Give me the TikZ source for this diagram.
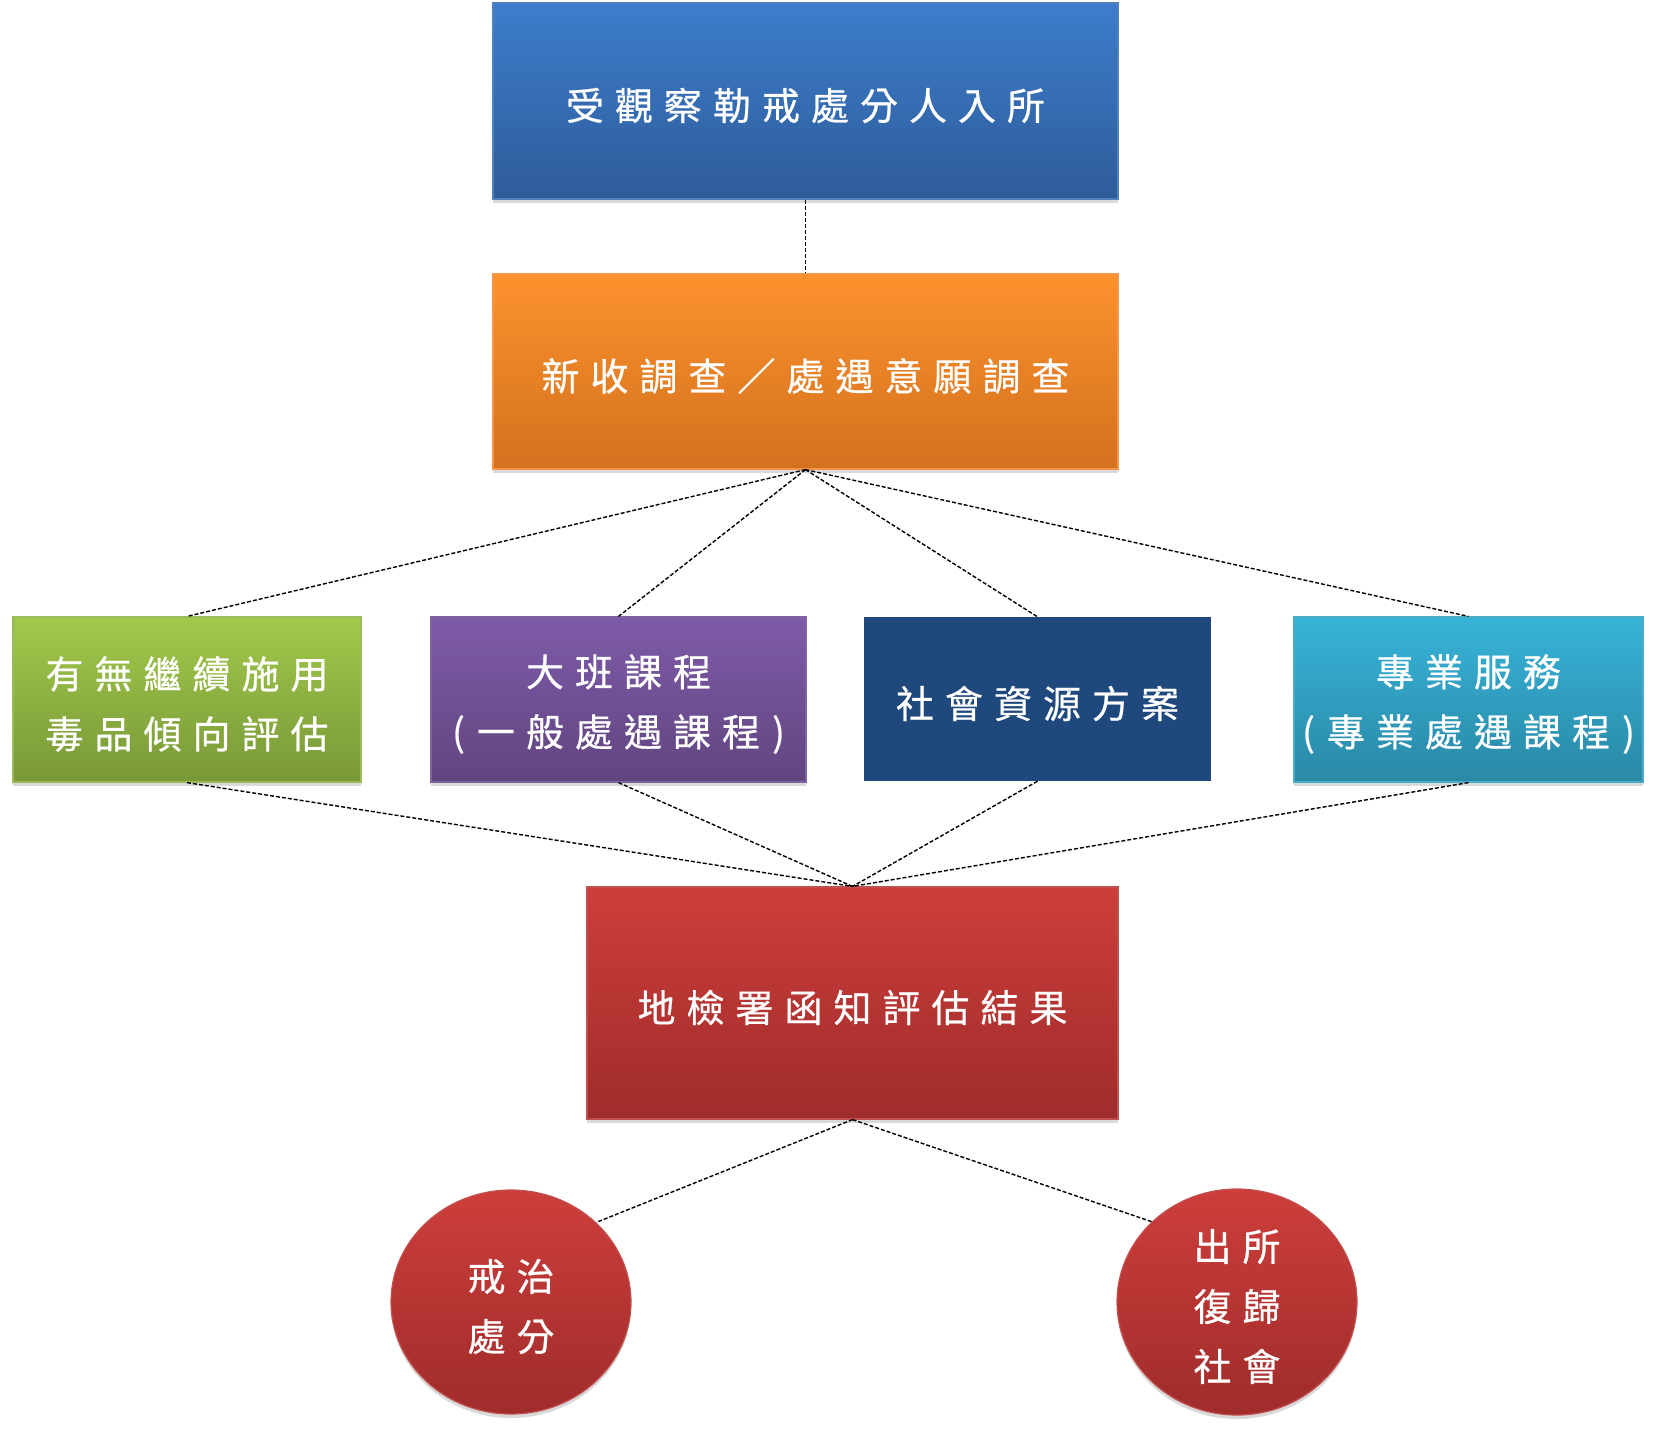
\documentclass[tikz,border=0pt]{standalone}
\usepackage{fontspec}
\newfontfamily\cjk[FakeBold=0.6]{Noto Sans CJK TC}
\usetikzlibrary{shapes.geometric,shadows}
\ExplSyntaxOn
\NewDocumentCommand\spc{m}{\raisebox{-4.5pt}[\height][\depth]{\tl_map_inline:nn {#1} {##1\kern11pt}\kern-11pt}}
\ExplSyntaxOff
\newcommand\lp{\makebox[14pt][l]{(}}
\newcommand\rp{\makebox[14pt][r]{)}}
\definecolor{bluetop}{HTML}{3D7DCB}\definecolor{bluebot}{HTML}{2E5C9A}\definecolor{blueline}{HTML}{4F81BD}
\definecolor{orgtop}{HTML}{FC922D}\definecolor{orgbot}{HTML}{D4711F}\definecolor{orgline}{HTML}{F79646}
\definecolor{grntop}{HTML}{A1C94B}\definecolor{grnbot}{HTML}{789837}\definecolor{grnline}{HTML}{9BBB59}
\definecolor{purtop}{HTML}{7E5BA9}\definecolor{purbot}{HTML}{61457F}\definecolor{purline}{HTML}{8064A2}
\definecolor{navy}{HTML}{1F497D}
\definecolor{cyntop}{HTML}{37B3D8}\definecolor{cynbot}{HTML}{2A88A6}\definecolor{cynline}{HTML}{4BACC6}
\definecolor{redtop}{HTML}{CD3E3B}\definecolor{redbot}{HTML}{9F2C2B}\definecolor{redline}{HTML}{C0504D}
\begin{document}
\begin{tikzpicture}[x=1pt,y=-1pt,
  base/.style={inner sep=0pt,align=center,text=white,
    font=\cjk\fontsize{38}{60}\selectfont},
  shad/.style={drop shadow={opacity=0.3,shadow xshift=0pt,shadow yshift=-4pt}},
  gbox/.style n args={3}{base,rectangle,shad,draw=#3,line width=1.2pt,
    top color=#1,bottom color=#2},
  link/.style={draw=black,dashed,dash pattern=on 4pt off 2pt,line width=1.4pt}]
\useasboundingbox (0,0) rectangle (1670,1433);
\node[gbox={bluetop}{bluebot}{blueline},minimum width=625pt,minimum height=196pt] (top) at (805.5,101) {\spc{受觀察勒戒處分人入所}};
\node[gbox={orgtop}{orgbot}{orgline},minimum width=625pt,minimum height=195pt] (org) at (805.5,371.5) {\spc{新收調查／處遇意願調查}};
\node[gbox={grntop}{grnbot}{grnline},minimum width=348pt,minimum height=165pt] (grn) at (187,699.5) {\spc{有無繼續施用}\\\spc{毒品傾向評估}};
\node[gbox={purtop}{purbot}{purline},minimum width=375pt,minimum height=165pt] (pur) at (618.5,699.5) {\spc{大班課程}\\\spc{{\lp}一般處遇課程{\rp}}};
\node[base,rectangle,fill=navy,minimum width=347pt,minimum height=164pt] (nav) at (1037.5,699) {\spc{社會資源方案}};
\node[gbox={cyntop}{cynbot}{cynline},minimum width=349pt,minimum height=165pt] (cyn) at (1468.5,699.5) {\spc{專業服務}\\\spc{{\lp}專業處遇課程{\rp}}};
\node[gbox={redtop}{redbot}{redline},minimum width=531pt,minimum height=232pt] (red) at (852.5,1003) {\spc{地檢署函知評估結果}};
\node[gbox={redtop}{redbot}{redline},ellipse,minimum width=240pt,minimum height=224pt] (el) at (511,1302) {\spc{戒治}\\\spc{處分}};
\node[gbox={redtop}{redbot}{redline},ellipse,minimum width=240pt,minimum height=226pt] (er) at (1237,1302) {\spc{出所}\\\spc{復歸}\\\spc{社會}};
\draw[link] (top.south) -- (org.north);
\foreach \n in {grn,pur,nav,cyn}{
  \draw[link] (org.south) -- (\n.north);
  \draw[link] (\n.south) -- (red.north);
}
\draw[link] (red.south) -- (el.north east);
\draw[link] (red.south) -- (er.north west);
\end{tikzpicture}
\end{document}
